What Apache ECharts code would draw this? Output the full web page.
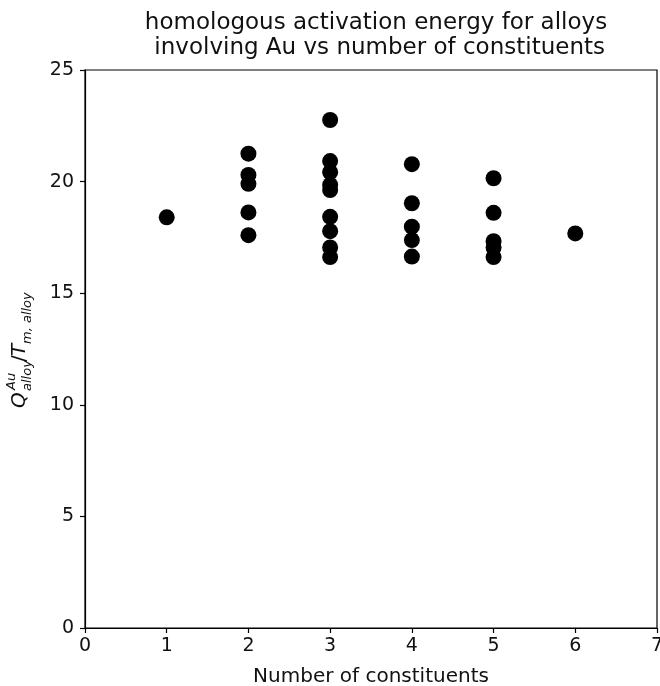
<!DOCTYPE html>
<html>
<head>
<meta charset="utf-8">
<script src="https://cdn.jsdelivr.net/npm/echarts@6/dist/echarts.min.js"></script>
<style>
  html, body { margin: 0; padding: 0; background: #fff; }
  #chart { width: 660px; height: 686px; }
</style>
</head>
<body>
<div id="chart"></div>
<script>
// Number of constituent elements in each Au-bearing alloy
const nConstituents = [
  1,
  2, 2, 2, 2, 2,
  3, 3, 3, 3, 3, 3, 3, 3, 3,
  4, 4, 4, 4, 4,
  5, 5, 5, 5, 5,
  6
];
// Homologous activation energy Q / Tm for each alloy
const qOverTm = [
  18.40,
  21.25, 20.30, 19.90, 18.62, 17.60,
  22.76, 20.92, 20.42, 19.85, 19.62, 18.42, 17.78, 17.05, 16.62,
  20.78, 19.03, 17.98, 17.38, 16.64,
  20.15, 18.60, 17.33, 17.05, 16.62,
  17.68
];
const xTicks = [0, 1, 2, 3, 4, 5, 6, 7];
const yTicks = [0, 5, 10, 15, 20, 25];

const FONT = 'DejaVu Sans';
const points = nConstituents.map((n, i) => [n, qOverTm[i]]);

const chart = echarts.init(document.getElementById('chart'), null, { renderer: 'canvas' });

const axisCommon = {
  axisLine: { show: true, onZero: false, lineStyle: { color: '#000', width: 1.2 } },
  axisTick: { show: true, inside: false, length: 5, lineStyle: { color: '#000', width: 1.2 } },
  splitLine: { show: false },
  axisLabel: { color: '#111', fontFamily: FONT, fontSize: 19 }
};

// y-axis label Q^{Au}_{alloy}/T_{m,alloy}, laid out piece by piece and rotated
const labelPieces = [
  { t: 'Q', x: 0, y: 0, size: 20, italic: true },
  { t: 'Au', x: 18, y: -12, size: 13, italic: true },
  { t: 'alloy', x: 17, y: 4, size: 13, italic: true },
  { t: '/', x: 46, y: 0, size: 20, italic: false },
  { t: 'T', x: 52, y: 0, size: 20, italic: true },
  { t: 'm, alloy', x: 64, y: 4, size: 13, italic: true }
];

chart.setOption({
  animation: false,
  backgroundColor: '#fff',
  title: {
    text: 'homologous activation energy for alloys\n involving Au vs number of constituents',
    left: 371,
    top: 6,
    textAlign: 'center',
    textStyle: { fontFamily: FONT, fontSize: 23, fontWeight: 'normal', color: '#111', lineHeight: 25 }
  },
  grid: {
    left: 85, right: 3, top: 70, bottom: 58,
    outerBoundsMode: 'none',
    containLabel: false,
    show: true, borderColor: '#000', borderWidth: 1.2, backgroundColor: 'transparent'
  },
  xAxis: Object.assign({}, axisCommon, {
    type: 'value',
    min: xTicks[0],
    max: xTicks[xTicks.length - 1],
    interval: 1,
    name: 'Number of constituents',
    nameLocation: 'middle',
    nameGap: 39,
    nameTextStyle: { fontFamily: FONT, fontSize: 20, color: '#111' },
    axisLabel: Object.assign({}, axisCommon.axisLabel, { margin: 9 })
  }),
  yAxis: Object.assign({}, axisCommon, {
    type: 'value',
    min: yTicks[0],
    max: yTicks[yTicks.length - 1],
    interval: 5,
    axisLabel: Object.assign({}, axisCommon.axisLabel, { margin: 11 })
  }),
  graphic: [{
    type: 'group',
    x: 30,
    y: 408,
    rotation: Math.PI / 2,
    children: labelPieces.map(p => ({
      type: 'text',
      x: p.x,
      y: p.y,
      style: {
        text: p.t,
        fill: '#111',
        fontFamily: FONT,
        fontSize: p.size,
        fontStyle: p.italic ? 'italic' : 'normal',
        verticalAlign: 'bottom',
        align: 'left'
      }
    }))
  }],
  series: [{
    type: 'scatter',
    data: points,
    symbol: 'circle',
    symbolSize: 16,
    itemStyle: { color: '#000', opacity: 1 },
    emphasis: { disabled: true }
  }]
});
</script>
</body>
</html>
